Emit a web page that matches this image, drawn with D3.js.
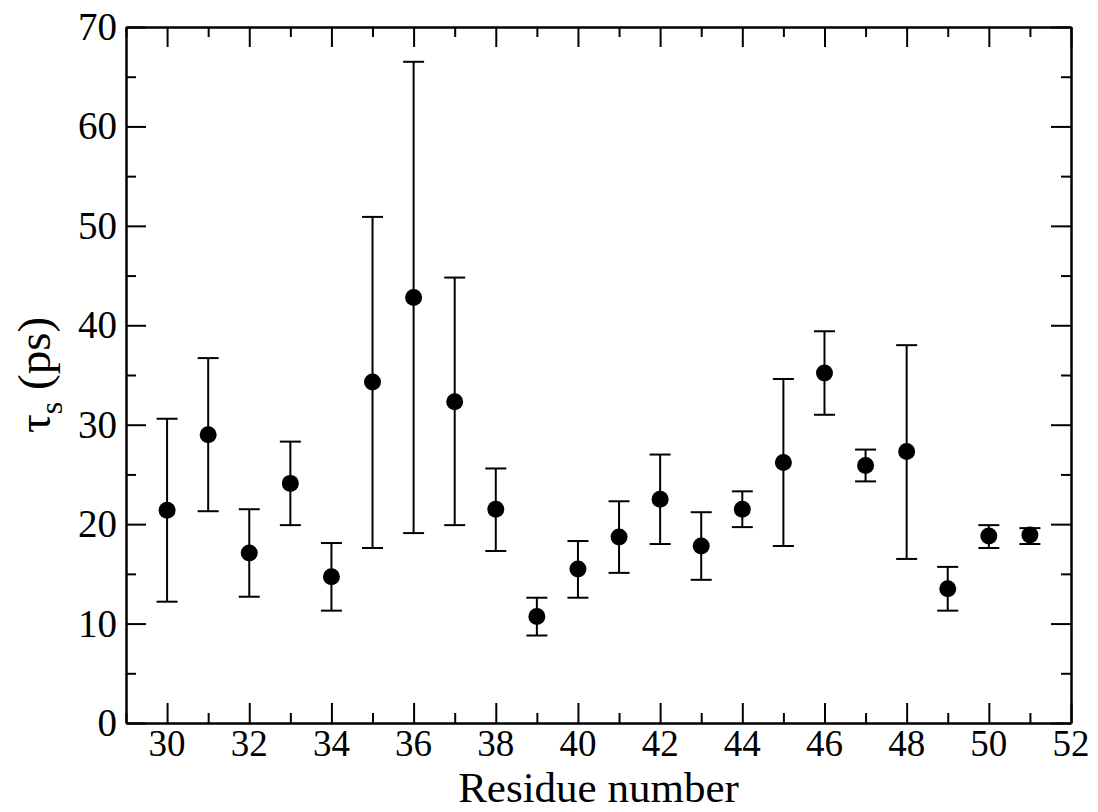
<!DOCTYPE html>
<html>
<head>
<meta charset="utf-8">
<script src="https://cdn.jsdelivr.net/npm/d3@7"></script>
<style>
    html, body { margin: 0; padding: 0; background: #fff; }
    text { font-family: 'Liberation Serif', 'Times New Roman', serif; fill: #000; }
</style>
</head>
<body>
<div id="vis"></div>
<script>
const RESIDUES = [30, 31, 32, 33, 34, 35, 36, 37, 38, 39, 40, 41, 42, 43, 44, 45, 46, 47, 48, 49, 50, 51]
const TAU = [21.4, 29.0, 17.1, 24.1, 14.7, 34.3, 42.8, 32.3, 21.5, 10.7, 15.5, 18.7, 22.5, 17.8, 21.5, 26.2, 35.2, 25.9, 27.3, 13.5, 18.8, 18.9]
const TAU_HIGH = [30.6, 36.7, 21.5, 28.3, 18.1, 50.9, 66.5, 44.8, 25.6, 12.6, 18.3, 22.3, 27.0, 21.2, 23.3, 34.6, 39.4, 27.5, 38.0, 15.7, 19.9, 19.6]
const TAU_LOW = [12.2, 21.3, 12.7, 19.9, 11.3, 17.6, 19.1, 19.9, 17.3, 8.8, 12.6, 15.1, 18.0, 14.4, 19.7, 17.8, 31.0, 24.3, 16.5, 11.3, 17.6, 18.0]

const X_MAJOR = [30, 32, 34, 36, 38, 40, 42, 44, 46, 48, 50, 52]
const X_MINOR = [29, 31, 33, 35, 37, 39, 41, 43, 45, 47, 49, 51]
const Y_MAJOR = [0, 10, 20, 30, 40, 50, 60, 70]
const Y_MINOR = [5, 15, 25, 35, 45, 55, 65]

let width = 1098
let height = 812
let margin = {top: 27, right: 27, bottom: 89, left: 126}

let svg = d3.select('#vis')
    .append('svg')
    .attr('width', width)
    .attr('height', height)

let x = d3.scaleLinear()
    .domain([29, 52])
    .range([margin.left, width - margin.right])

let y = d3.scaleLinear()
    .domain([0, 70])
    .range([height - margin.bottom, margin.top])

let majorLen = 20
let minorLen = 10

// axes on all four sides, ticks pointing inward
function drawAxis(axis, ticks, len) {
    let g = svg.append('g').call(axis.tickValues(ticks).tickSize(len).tickSizeOuter(0))
    g.select('.domain').attr('stroke', '#000').attr('stroke-width', 2)
    g.selectAll('.tick line').attr('stroke', '#000').attr('stroke-width', 2)
    g.selectAll('.tick text').remove()
    return g
}

let bottomY = y(0)
let topY = y(70)
let leftX = x(29)
let rightX = x(52)

drawAxis(d3.axisTop(x), X_MAJOR, majorLen).attr('transform', `translate(0,${bottomY})`)
drawAxis(d3.axisTop(x), X_MINOR, minorLen).attr('transform', `translate(0,${bottomY})`)
drawAxis(d3.axisBottom(x), X_MAJOR, majorLen).attr('transform', `translate(0,${topY})`)
drawAxis(d3.axisBottom(x), X_MINOR, minorLen).attr('transform', `translate(0,${topY})`)
drawAxis(d3.axisRight(y), Y_MAJOR, majorLen).attr('transform', `translate(${leftX},0)`)
drawAxis(d3.axisRight(y), Y_MINOR, minorLen).attr('transform', `translate(${leftX},0)`)
drawAxis(d3.axisLeft(y), Y_MAJOR, majorLen).attr('transform', `translate(${rightX},0)`)
drawAxis(d3.axisLeft(y), Y_MINOR, minorLen).attr('transform', `translate(${rightX},0)`)

// tick labels
svg.append('g')
    .selectAll('text')
    .data(X_MAJOR)
    .enter().append('text')
    .attr('x', d => x(d))
    .attr('y', bottomY + 33)
    .attr('text-anchor', 'middle')
    .style('font-size', '37px')
    .text(d => d)

svg.append('g')
    .selectAll('text')
    .data(Y_MAJOR)
    .enter().append('text')
    .attr('x', leftX - 9)
    .attr('y', d => y(d) + 13)
    .attr('text-anchor', 'end')
    .style('font-size', '39px')
    .text(d => d)

// axis titles
svg.append('text')
    .attr('x', (leftX + rightX) / 2)
    .attr('y', 802)
    .attr('text-anchor', 'middle')
    .style('font-size', '43px')
    .text('Residue number')

let yTitle = svg.append('text')
    .attr('transform', `translate(50,${(topY + bottomY) / 2}) rotate(-90)`)
    .attr('text-anchor', 'middle')
    .style('font-size', '47px')
yTitle.append('tspan').text('τ')
yTitle.append('tspan').attr('dy', 12).style('font-size', '32px').text('s')
yTitle.append('tspan').attr('dy', -12).text(' (ps)')

// error bars
let capHalf = 10.5
let bars = svg.append('g')
    .attr('stroke', '#000')
    .attr('stroke-width', 2)
    .selectAll('g')
    .data(RESIDUES)
    .enter().append('g')

bars.append('line')
    .attr('x1', d => x(d))
    .attr('x2', d => x(d))
    .attr('y1', (d, i) => y(TAU_LOW[i]))
    .attr('y2', (d, i) => y(TAU_HIGH[i]))

bars.append('line')
    .attr('x1', d => x(d) - capHalf)
    .attr('x2', d => x(d) + capHalf)
    .attr('y1', (d, i) => y(TAU_HIGH[i]))
    .attr('y2', (d, i) => y(TAU_HIGH[i]))

bars.append('line')
    .attr('x1', d => x(d) - capHalf)
    .attr('x2', d => x(d) + capHalf)
    .attr('y1', (d, i) => y(TAU_LOW[i]))
    .attr('y2', (d, i) => y(TAU_LOW[i]))

// points
svg.append('g')
    .selectAll('circle')
    .data(RESIDUES)
    .enter().append('circle')
    .attr('cx', d => x(d))
    .attr('cy', (d, i) => y(TAU[i]))
    .attr('r', 8.5)
    .attr('fill', '#000')
</script>
</body>
</html>
